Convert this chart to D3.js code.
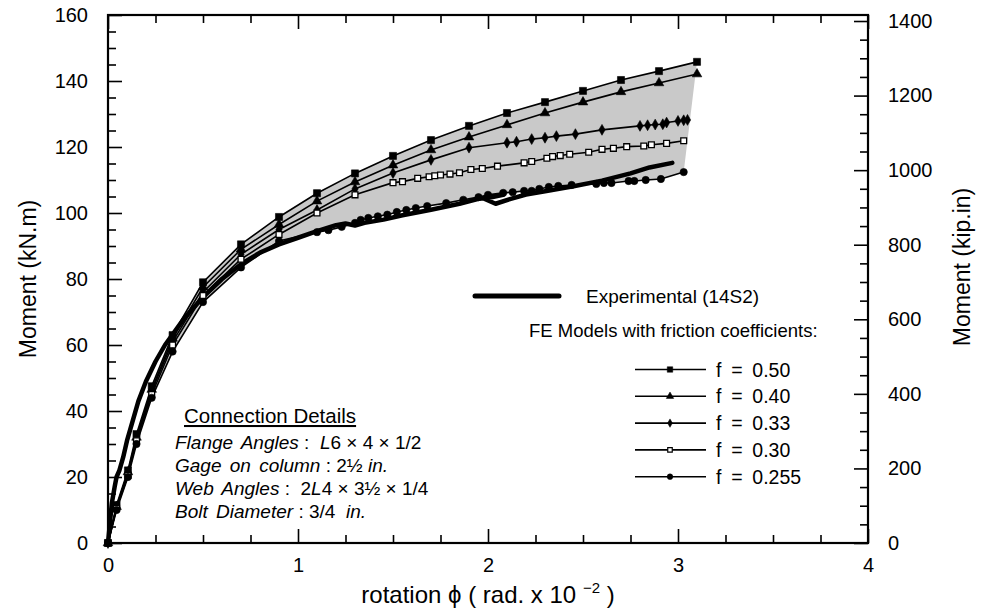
<!DOCTYPE html>
<html><head><meta charset="utf-8">
<script src="https://cdn.jsdelivr.net/npm/d3@7/dist/d3.min.js"></script>
<style>
body{margin:0;background:#fff}
text{font-family:"Liberation Sans",Arial,Helvetica,sans-serif;fill:#000}
</style>
</head><body>
<svg id="chart" width="983" height="611"></svg>
<script>
// ---------------- DATA ----------------
const expRot = [0,0.01,0.02,0.035,0.045,0.06,0.08,0.1,0.13,0.16,0.2,0.25,0.3,0.35,0.4,0.5,0.6,0.7,0.8,0.9,1.0,1.1,1.2,1.25,1.3,1.35,1.45,1.55,1.7,1.85,1.95,2.08,1.98,2.04,2.12,2.2,2.3,2.45,2.6,2.75,2.85,2.97];
const expMom = [0,6,12,17,20,22,26,31,37,43,49,55,60,64,68,74.5,80,84.5,88,90.5,92.5,94.5,96.3,96.8,96.2,97,98,99.3,101,102.8,104.3,105.5,104.3,102.8,104.3,105.6,106.6,108.1,109.8,112,113.8,115.2];

const f050Rot = [0,0.045,0.105,0.15,0.23,0.34,0.5,0.7,0.9,1.1,1.3,1.5,1.7,1.9,2.1,2.3,2.5,2.7,2.9,3.1];
const f050Mom = [0,11.5,22,33,47.5,63,79,90.5,98.8,106,112,117.3,122.1,126.4,130.3,133.6,137,140.3,143,145.8];

const f040Rot = [0,0.045,0.105,0.15,0.23,0.34,0.5,0.7,0.9,1.1,1.3,1.5,1.7,1.9,2.1,2.3,2.5,2.7,2.9,3.1];
const f040Mom = [0,11,21.5,32,46.5,62,77.5,89,96.5,103.6,109.4,114.5,119.1,123,126.7,130.3,133.6,136.7,139.4,142.1];

const f033Rot = [0,0.045,0.105,0.15,0.23,0.34,0.5,0.7,0.9,1.1,1.3,1.5,1.7,1.9,2.1,2.15,2.23,2.3,2.36,2.46,2.6,2.8,2.84,2.88,2.92,2.94,3.0,3.03,3.05];
const f033Mom = [0,10.8,21,31.5,46,61,76,87.5,95,100.9,107.3,112.1,116.1,119.8,121.3,121.6,122.4,122.8,123.3,123.9,125.2,126.4,126.6,126.8,126.9,127.4,127.9,128.1,128.2];

const f030Rot = [0,0.045,0.105,0.15,0.23,0.34,0.5,0.7,0.9,1.1,1.3,1.5,1.55,1.63,1.69,1.72,1.75,1.8,1.85,1.91,1.97,2.05,2.19,2.23,2.31,2.34,2.38,2.43,2.53,2.6,2.66,2.73,2.82,2.86,2.94,3.03];
const f030Mom = [0,10.5,20.5,31,45,60,75,86,93.5,100,105.5,109.2,109.5,110.5,111,111.3,111.5,111.8,112.2,113.2,113.5,114.2,115.2,115.6,116.6,117.1,117.4,117.8,118.4,119.3,119.6,120.1,120.3,120.7,121.1,121.9];

const f0255Rot = [0,0.045,0.105,0.15,0.23,0.34,0.5,0.7,0.9,1.1,1.16,1.23,1.3,1.33,1.37,1.42,1.47,1.52,1.57,1.62,1.68,1.78,1.87,1.95,2.0,2.08,2.13,2.19,2.23,2.27,2.32,2.37,2.44,2.57,2.61,2.65,2.74,2.77,2.83,2.91,3.03];
const f0255Mom = [0,10,20,30,44,58,73,83.5,91.5,94.2,94.8,95.8,97,97.9,98.5,99,99.5,100.3,100.9,101.5,102.1,103,104,104.8,105.5,106.1,106.3,106.7,106.7,107.3,107.9,108.2,108.5,108.8,109.1,109.1,109.7,109.7,110,110.3,112.4];

const seriesNames = ["f\u2002=\u20020.50","f\u2002=\u20020.40","f\u2002=\u20020.33","f\u2002=\u20020.30","f\u2002=\u20020.255"];
const xTicks = [0,1,2,3,4];
const xMinorTicks = [0.25,0.5,0.75,1.25,1.5,1.75,2.25,2.5,2.75,3.25,3.5,3.75];
const yTicks = [0,20,40,60,80,100,120,140,160];
const yMinorTicks = d3.range(0,161,5);
const kipTicks = [0,200,400,600,800,1000,1200,1400];
const kipMinorTicks = d3.range(0,1401,50);
const KIPIN_TO_KNM = 0.112985;

// ---------------- LAYOUT ----------------
const L = 108, R = 868, T = 15, B = 543;
const svg = d3.select("#chart");
const x = d3.scaleLinear().domain([0,4]).range([L,R]);
const y = d3.scaleLinear().domain([0,160]).range([B,T]);
const yk = d3.scaleLinear().domain([0,160/KIPIN_TO_KNM]).range([B,T]);

const zip = (a,b) => a.map((v,i)=>[v,b[i]]);
const fe = [
  {pts: zip(f050Rot,f050Mom), sym: d3.symbolSquare, size: 50, fill:"#000"},
  {pts: zip(f040Rot,f040Mom), sym: d3.symbolTriangle, size: 40, fill:"#000"},
  {pts: zip(f033Rot,f033Mom), sym: d3.symbolDiamond, size: 34, fill:"#000"},
  {pts: zip(f030Rot,f030Mom), sym: d3.symbolSquare, size: 34, fill:"#fff"},
  {pts: zip(f0255Rot,f0255Mom), sym: d3.symbolCircle, size: 42, fill:"#000"}
];
const line = d3.line().x(d=>x(d[0])).y(d=>y(d[1]));

// gray envelope
const env = fe[0].pts.concat(fe[4].pts.slice().reverse());
svg.append("path").attr("d", line(env) + "Z").attr("fill","#c9c9c9").attr("stroke","none");

// FE lines
fe.forEach(s=>{
  svg.append("path").attr("d", line(s.pts)).attr("fill","none").attr("stroke","#000").attr("stroke-width",1.6);
});
// experimental
svg.append("path").attr("d", line(zip(expRot,expMom))).attr("fill","none")
  .attr("stroke","#000").attr("stroke-width",4.5).attr("stroke-linejoin","round").attr("stroke-linecap","round");
// markers
fe.forEach(s=>{
  svg.append("g").selectAll("path").data(s.pts).join("path")
    .attr("transform", d=>`translate(${x(d[0])},${y(d[1])})`)
    .attr("d", d3.symbol().type(s.sym).size(s.size))
    .attr("fill", s.fill).attr("stroke","#000").attr("stroke-width", s.fill==="#fff"?1.3:0.6);
});

// ---------------- AXES ----------------
const fs = "20px";
function styleAxis(g){ g.select(".domain").remove(); g.selectAll("line").attr("stroke","#000").attr("stroke-width",1.6); g.selectAll("text").attr("font-size",fs).attr("font-family",null); }
// bottom
svg.append("g").attr("transform",`translate(0,${B})`).call(d3.axisBottom(x).tickValues(xTicks).tickSizeInner(-14).tickSizeOuter(0).tickPadding(15).tickFormat(d3.format("d"))).call(styleAxis);
svg.append("g").attr("transform",`translate(0,${B})`).call(d3.axisBottom(x).tickValues(xMinorTicks).tickSizeInner(-8).tickSizeOuter(0).tickFormat("")).call(styleAxis);
// top
svg.append("g").attr("transform",`translate(0,${T})`).call(d3.axisTop(x).tickValues(xTicks).tickSizeInner(-14).tickSizeOuter(0).tickFormat("")).call(styleAxis);
svg.append("g").attr("transform",`translate(0,${T})`).call(d3.axisTop(x).tickValues(xMinorTicks).tickSizeInner(-8).tickSizeOuter(0).tickFormat("")).call(styleAxis);
// left
svg.append("g").attr("transform",`translate(${L},0)`).call(d3.axisLeft(y).tickValues(yTicks).tickSizeInner(-14).tickSizeOuter(0).tickPadding(20).tickFormat(d3.format("d"))).call(styleAxis);
svg.append("g").attr("transform",`translate(${L},0)`).call(d3.axisLeft(y).tickValues(yMinorTicks.filter(v=>v%20)).tickSizeInner(-8).tickSizeOuter(0).tickFormat("")).call(styleAxis);
// right
svg.append("g").attr("transform",`translate(${R},0)`).call(d3.axisRight(yk).tickValues(kipTicks).tickSizeInner(-14).tickSizeOuter(0).tickPadding(20).tickFormat(d3.format("d"))).call(styleAxis);
svg.append("g").attr("transform",`translate(${R},0)`).call(d3.axisRight(yk).tickValues(kipMinorTicks.filter(v=>v%200)).tickSizeInner(-8).tickSizeOuter(0).tickFormat("")).call(styleAxis);
// frame
svg.append("rect").attr("x",L).attr("y",T).attr("width",R-L).attr("height",B-T).attr("fill","none").attr("stroke","#000").attr("stroke-width",2.2);

// axis titles
svg.append("text").attr("transform",`translate(28,${(T+B)/2}) rotate(-90)`).attr("text-anchor","middle").attr("dominant-baseline","central").attr("font-size","23px").text("Moment (kN.m)");
svg.append("text").attr("transform",`translate(962,${(T+B)/2 - 12}) rotate(-90)`).attr("text-anchor","middle").attr("dominant-baseline","central").attr("font-size","23px").text("Moment (kip.in)");
const xl = svg.append("text").attr("x",(L+R)/2).attr("y",603).attr("text-anchor","middle").attr("font-size","24px");
xl.append("tspan").text("rotation ϕ ( rad. x 10 ");
xl.append("tspan").attr("dy",-10).attr("font-size","15px").text("−2");
xl.append("tspan").attr("dy",10).text(" )");

// ---------------- LEGEND ----------------
svg.append("line").attr("x1",475).attr("x2",559).attr("y1",296).attr("y2",296).attr("stroke","#000").attr("stroke-width",5).attr("stroke-linecap","round");
svg.append("text").attr("x",586).attr("y",303).attr("font-size","19px").text("Experimental (14S2)");
svg.append("text").attr("x",529).attr("y",337).attr("font-size","18.5px").text("FE Models with friction coefficients:");
seriesNames.forEach((n,i)=>{
  const yy = 369.5 + i*26.8;
  svg.append("line").attr("x1",635).attr("x2",706).attr("y1",yy).attr("y2",yy).attr("stroke","#000").attr("stroke-width",1.6);
  svg.append("path").attr("transform",`translate(670,${yy})`).attr("d",d3.symbol().type(fe[i].sym).size(fe[i].size*0.6)).attr("fill",fe[i].fill).attr("stroke","#000").attr("stroke-width",fe[i].fill==="#fff"?1.2:0.5);
  svg.append("text").attr("x",716).attr("y",yy+7).attr("font-size","19.5px").text(n);
});

// ---------------- CONNECTION DETAILS ----------------
svg.append("text").attr("x",184).attr("y",423).attr("font-size","20.5px").attr("text-decoration","underline").text("Connection Details");
const det = [
  [["Flange Angles","i"],[" :  ","n"],["L","i"],["6 × 4 × 1/2","n"]],
  [["Gage on column","i"],[" : 2½ ","n"],["in.","i"]],
  [["Web Angles","i"],[" :  2","n"],["L","i"],["4 × 3½ × 1/4","n"]],
  [["Bolt Diameter","i"],[" : 3/4  ","n"],["in.","i"]]
];
det.forEach((row,i)=>{
  const t = svg.append("text").attr("x",175).attr("y",449+i*23).attr("font-size","19px").style("white-space","pre");
  row.forEach(p=>t.append("tspan").attr("font-style",p[1]==="i"?"italic":"normal").attr("word-spacing",p[1]==="i"?"3px":"0px").text(p[0]));
});
</script>
</body></html>
